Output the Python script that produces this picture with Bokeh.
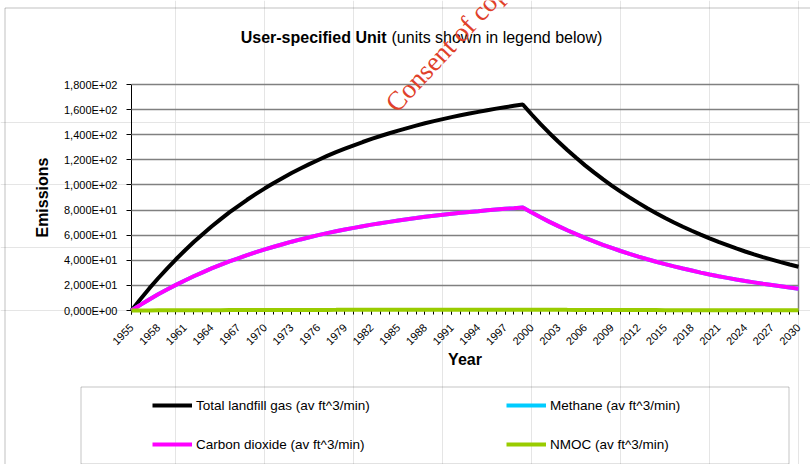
import math
from bokeh.plotting import figure
from bokeh.models import (Range1d, FixedTicker, Legend, LegendItem, Label, LinearAxis,
                          BoxAnnotation)
from bokeh.embed import file_html
from bokeh.resources import INLINE

# ---------------- data ----------------
years = list(range(1955, 2031))
total = [0, 9.0, 17.6, 25.7, 33.4, 40.8, 47.8, 54.5, 60.8, 66.9,
         72.6, 78.1, 83.2, 88.2, 92.9, 97.3, 101.6, 105.6, 109.5, 113.1,
         116.6, 119.9, 123.1, 126.1, 128.9, 131.6, 134.2, 136.7, 139.0, 141.2,
         143.3, 145.3, 147.2, 149.1, 150.8, 152.4, 154.0, 155.5, 156.9, 158.2,
         159.5, 160.8, 161.9, 163.0, 164.1,
         156.1, 148.5, 141.2, 134.4, 127.8, 121.6, 115.6, 110.0, 104.6, 99.5,
         94.7, 90.1, 85.7, 81.5, 77.5, 73.7, 70.1, 66.7, 63.5, 60.4,
         57.4, 54.6, 52.0, 49.4, 47.0, 44.7, 42.5, 40.5, 38.5, 36.6, 34.8]
methane = [0, 4.5, 8.8, 12.9, 16.7, 20.4, 23.9, 27.3, 30.4, 33.5,
           36.3, 39.1, 41.6, 44.1, 46.5, 48.7, 50.8, 52.8, 54.8, 56.6,
           58.3, 60.0, 61.6, 63.1, 64.5, 65.8, 67.1, 68.4, 69.5, 70.6,
           71.7, 72.7, 73.6, 74.6, 75.4, 76.2, 77.0, 77.8, 78.5, 79.1,
           79.8, 80.4, 81.0, 81.5, 82.1,
           78.1, 74.3, 70.6, 67.2, 63.9, 60.8, 57.8, 55.0, 52.3, 49.8,
           47.4, 45.1, 42.9, 40.8, 38.8, 36.9, 35.1, 33.4, 31.8, 30.2,
           28.7, 27.3, 26.0, 24.7, 23.5, 22.4, 21.3, 20.3, 19.3, 18.3, 17.4]
carbon_dioxide = [0, 4.5, 8.8, 12.9, 16.7, 20.4, 23.9, 27.3, 30.4, 33.5,
                  36.3, 39.1, 41.6, 44.1, 46.5, 48.7, 50.8, 52.8, 54.8, 56.6,
                  58.3, 60.0, 61.6, 63.1, 64.5, 65.8, 67.1, 68.4, 69.5, 70.6,
                  71.7, 72.7, 73.6, 74.6, 75.4, 76.2, 77.0, 77.8, 78.5, 79.1,
                  79.8, 80.4, 81.0, 81.5, 82.1,
                  78.1, 74.3, 70.6, 67.2, 63.9, 60.8, 57.8, 55.0, 52.3, 49.8,
                  47.4, 45.1, 42.9, 40.8, 38.8, 36.9, 35.1, 33.4, 31.8, 30.2,
                  28.7, 27.3, 26.0, 24.7, 23.5, 22.4, 21.3, 20.3, 19.3, 18.3, 17.4]
nmoc = [0, 0.04, 0.07, 0.10, 0.13, 0.16, 0.19, 0.22, 0.24, 0.27,
        0.29, 0.31, 0.33, 0.35, 0.37, 0.39, 0.41, 0.42, 0.44, 0.45,
        0.47, 0.48, 0.49, 0.50, 0.52, 0.53, 0.54, 0.55, 0.56, 0.56,
        0.57, 0.58, 0.59, 0.60, 0.60, 0.61, 0.62, 0.62, 0.63, 0.63,
        0.64, 0.64, 0.65, 0.65, 0.66,
        0.62, 0.59, 0.56, 0.54, 0.51, 0.49, 0.46, 0.44, 0.42, 0.40,
        0.38, 0.36, 0.34, 0.33, 0.31, 0.29, 0.28, 0.27, 0.25, 0.24,
        0.23, 0.22, 0.21, 0.20, 0.19, 0.18, 0.17, 0.16, 0.15, 0.15, 0.14]
series_labels = ["Total landfill gas (av ft^3/min)", "Methane (av ft^3/min)",
                 "Carbon dioxide (av ft^3/min)", "NMOC (av ft^3/min)"]
x_tick_years = list(range(1955, 2031, 3))
y_ticks = [0, 20, 40, 60, 80, 100, 120, 140, 160, 180]
y_tick_labels = ["0,000E+00", "2,000E+01", "4,000E+01", "6,000E+01", "8,000E+01",
                 "1,000E+02", "1,200E+02", "1,400E+02", "1,600E+02", "1,800E+02"]
title_bold = "User-specified Unit"
title_rest = "(units shown in legend below)"
watermark = "Consent of copyright owner required for any other use."

# ---------------- layout (pixels) ----------------
FONT = "Liberation Sans"
W, H = 810, 464
PL, PR, PT, PB = 131, 798, 84, 310          # plot-area edges on the canvas
X0, X1, Y0, Y1 = 1955, 2030, 0, 180
kx = (PR - PL) / (X1 - X0)
ky = (PB - PT) / (Y1 - Y0)


def xd(px):
    return X0 + (px - PL) / kx


def yd(py):
    return Y0 + (PB - py) / ky


p = figure(width=W, height=H, output_backend="svg", toolbar_location=None,
           x_range=Range1d(xd(0), xd(W)), y_range=Range1d(yd(H), yd(0)),
           x_axis_location=None, y_axis_location=None,
           min_border=0, min_border_left=0, min_border_right=0,
           min_border_top=0, min_border_bottom=0,
           background_fill_color="white", border_fill_color="white")
p.outline_line_color = None

# outer chart border
p.add_layout(BoxAnnotation(left=xd(4.5), right=xd(W + 20), top=yd(7.5), bottom=yd(H + 20),
                           fill_alpha=0, line_color="#303030", line_width=1))

# axes
yaxis = LinearAxis(fixed_location=X0, bounds=(Y0, Y1),
                   ticker=FixedTicker(ticks=y_ticks, minor_ticks=[]))
yaxis.major_label_overrides = {t: l for t, l in zip(y_ticks, y_tick_labels)}
xaxis = LinearAxis(fixed_location=Y0, bounds=(X0, X1),
                   ticker=FixedTicker(ticks=x_tick_years, minor_ticks=years))
xaxis.major_label_orientation = math.pi / 4
for ax in (xaxis, yaxis):
    ax.axis_line_color = "black"
    ax.axis_line_width = 1
    ax.major_tick_line_color = "black"
    ax.minor_tick_line_color = "black"
    ax.major_tick_in = 0
    ax.minor_tick_in = 0
    ax.major_label_text_font = FONT
    ax.major_label_text_color = "black"
    ax.major_label_text_font_size = "11px"
    ax.axis_label_text_font = FONT
    ax.axis_label_text_font_style = "bold"
    ax.axis_label_text_font_size = "16px"
    ax.axis_label_text_color = "black"
yaxis.major_tick_out = 5
yaxis.major_label_standoff = 9
yaxis.axis_label = "Emissions"
yaxis.axis_label_standoff = 10
xaxis.major_tick_out = 4
xaxis.minor_tick_out = 4
xaxis.major_label_standoff = 11
xaxis.axis_label = "Year"
xaxis.axis_label_standoff = 0

# right edge of the plot area; its inward ticks form the horizontal gridlines
redge = LinearAxis(fixed_location=X1, bounds=(Y0, Y1),
                   ticker=FixedTicker(ticks=y_ticks[1:], minor_ticks=[]),
                   axis_line_color="#808080", axis_line_width=1.5,
                   major_label_text_alpha=0, major_label_text_font_size="1px",
                   major_tick_line_color="#808080", major_tick_line_width=1.5,
                   major_tick_in=PR - PL, major_tick_out=0,
                   minor_tick_line_color=None)
p.add_layout(redge, "right")
p.add_layout(yaxis, "left")
p.add_layout(xaxis, "below")

# series
r_total = p.line(years, total, line_color="black", line_width=4, level="overlay")
r_meth = p.line(years, methane, line_color="#00CCFF", line_width=4, level="overlay")
r_co2 = p.line(years, carbon_dioxide, line_color="#FF00FF", line_width=4, level="overlay")
r_nmoc = p.line(years, nmoc, line_color="#99CC00", line_width=4, level="overlay")

# title
p.add_layout(Label(x=386, y=H - 37, x_units="screen", y_units="screen", text=title_bold,
                   text_align="right", text_baseline="middle", text_font=FONT,
                   text_font_style="bold", text_font_size="16px", text_color="black"))
p.add_layout(Label(x=391, y=H - 37, x_units="screen", y_units="screen", text=title_rest,
                   text_align="left", text_baseline="middle", text_font=FONT,
                   text_font_size="16px", text_color="black"))
# watermark
p.add_layout(Label(x=390, y=H - 107, x_units="screen", y_units="screen", text=watermark,
                   angle=math.radians(47), text_align="left", text_baseline="alphabetic",
                   text_font="Liberation Serif", text_font_size="27px",
                   text_color="#E0402A"))

# legend box
p.add_layout(BoxAnnotation(left=xd(80.5), right=xd(788.5), top=yd(386.5), bottom=yd(463.5),
                           fill_alpha=0, line_color="#404040", line_width=1))
common = dict(padding=9, spacing=19, glyph_width=40, glyph_height=20, label_height=20,
              label_standoff=4, label_text_font=FONT, label_text_font_size="13.5px",
              label_text_color="black", label_text_baseline="middle",
              border_line_alpha=0, background_fill_alpha=0)
leg1 = Legend(items=[LegendItem(label=series_labels[0], renderers=[r_total]),
                     LegendItem(label=series_labels[2], renderers=[r_co2])],
              location=(152 - 9, 1), **common)
leg2 = Legend(items=[LegendItem(label=series_labels[1], renderers=[r_meth]),
                     LegendItem(label=series_labels[3], renderers=[r_nmoc])],
              location=(506 - 9, 1), **common)
p.add_layout(leg1)
p.add_layout(leg2)

open("out.html", "w").write(file_html(p, INLINE))
